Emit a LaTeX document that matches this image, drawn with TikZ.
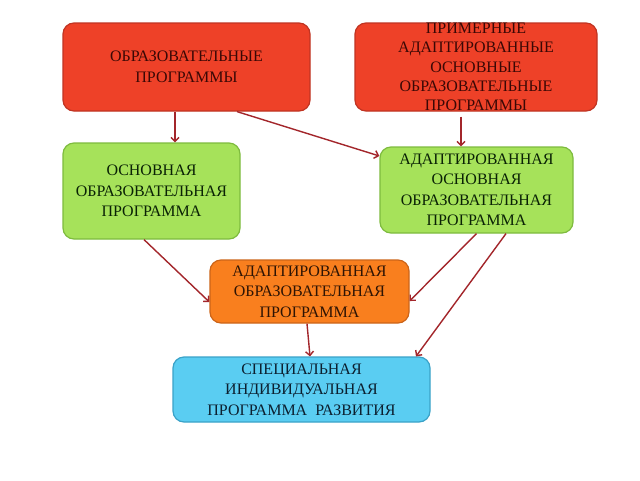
\documentclass[tikz,border=0pt]{standalone}
\usepackage{fontspec}
\setmainfont{Liberation Serif}
\usepackage{xcolor}
\usetikzlibrary{arrows.meta}
\definecolor{progred}{HTML}{EE4128}
\definecolor{progredline}{HTML}{C03422}
\definecolor{progredtext}{HTML}{3A0805}
\definecolor{proggreen}{HTML}{A6E25A}
\definecolor{proggreenline}{HTML}{7EBB3E}
\definecolor{proggreentext}{HTML}{0A2205}
\definecolor{progorange}{HTML}{F97F1E}
\definecolor{progorangeline}{HTML}{CC6418}
\definecolor{progorangetext}{HTML}{2E1404}
\definecolor{progblue}{HTML}{5ACDF2}
\definecolor{progblueline}{HTML}{3AA2C8}
\definecolor{progbluetext}{HTML}{0C2030}
\definecolor{linkred}{HTML}{A3262B}
\tikzset{
  box/.style={draw, rounded corners=11pt, line width=1.2pt, align=center, inner sep=0pt,
              font=\fontsize{16}{20.5}\selectfont},
  redbox/.style={box, fill=progred, draw=progredline, text=progredtext},
  greenbox/.style={box, fill=proggreen, draw=proggreenline, text=proggreentext},
  orangebox/.style={box, fill=progorange, draw=progorangeline, text=progorangetext},
  bluebox/.style={box, fill=progblue, draw=progblueline, text=progbluetext},
  link/.style={draw=linkred, line width=1.4pt, -{Straight Barb[length=4pt,width=8pt]}}
}

\begin{document}
\begin{tikzpicture}[x=1pt,y=-1pt]
    \useasboundingbox[fill=white] (0,0) rectangle (640,480);

    \node[redbox, minimum width=247, minimum height=88]    (Prog)      at (186.5, 67)  {ОБРАЗОВАТЕЛЬНЫЕ\\ПРОГРАММЫ};
    \node[redbox, minimum width=242, minimum height=88, font=\fontsize{16}{19.2}\selectfont]
                                                           (PrimProg)  at (476, 67)    {ПРИМЕРНЫЕ\\АДАПТИРОВАННЫЕ\\ОСНОВНЫЕ\\ОБРАЗОВАТЕЛЬНЫЕ\\ПРОГРАММЫ};
    \node[greenbox, minimum width=177, minimum height=96]  (Osn)       at (151.5, 191) {ОСНОВНАЯ\\ОБРАЗОВАТЕЛЬНАЯ\\ПРОГРАММА};
    \node[greenbox, minimum width=193, minimum height=86]  (AdOsn)     at (476.5, 190) {АДАПТИРОВАННАЯ\\ОСНОВНАЯ\\ОБРАЗОВАТЕЛЬНАЯ\\ПРОГРАММА};
    \node[orangebox, minimum width=199, minimum height=63] (AdProg)    at (309.5, 291.5) {АДАПТИРОВАННАЯ\\ОБРАЗОВАТЕЛЬНАЯ\\ПРОГРАММА};
    \node[bluebox, minimum width=257, minimum height=65]   (Spec)      at (301.5, 389.5) {СПЕЦИАЛЬНАЯ\\ИНДИВИДУАЛЬНАЯ\\ПРОГРАММА~~РАЗВИТИЯ};

    \draw[link] ([xshift=-11.5pt]Prog.south) -- ([xshift=23.5pt]Osn.north);
    \draw[link] ([xshift=50.5pt]Prog.south) -- ([yshift=34pt]AdOsn.west);
    \draw[link, shorten <=5pt] ([xshift=-15pt]PrimProg.south) -- ([xshift=-15.5pt]AdOsn.north);
    \draw[link] ([xshift=-7.5pt]Osn.south) -- ([yshift=-10.5pt]AdProg.west);
    \draw[link] (AdOsn.south) -- ([yshift=-9.5pt]AdProg.east);
    \draw[link] ([xshift=29.5pt]AdOsn.south) -- ([xshift=114.5pt]Spec.north);
    \draw[link] ([xshift=-2.5pt]AdProg.south) -- ([xshift=8.5pt]Spec.north);
\end{tikzpicture}
\end{document}
